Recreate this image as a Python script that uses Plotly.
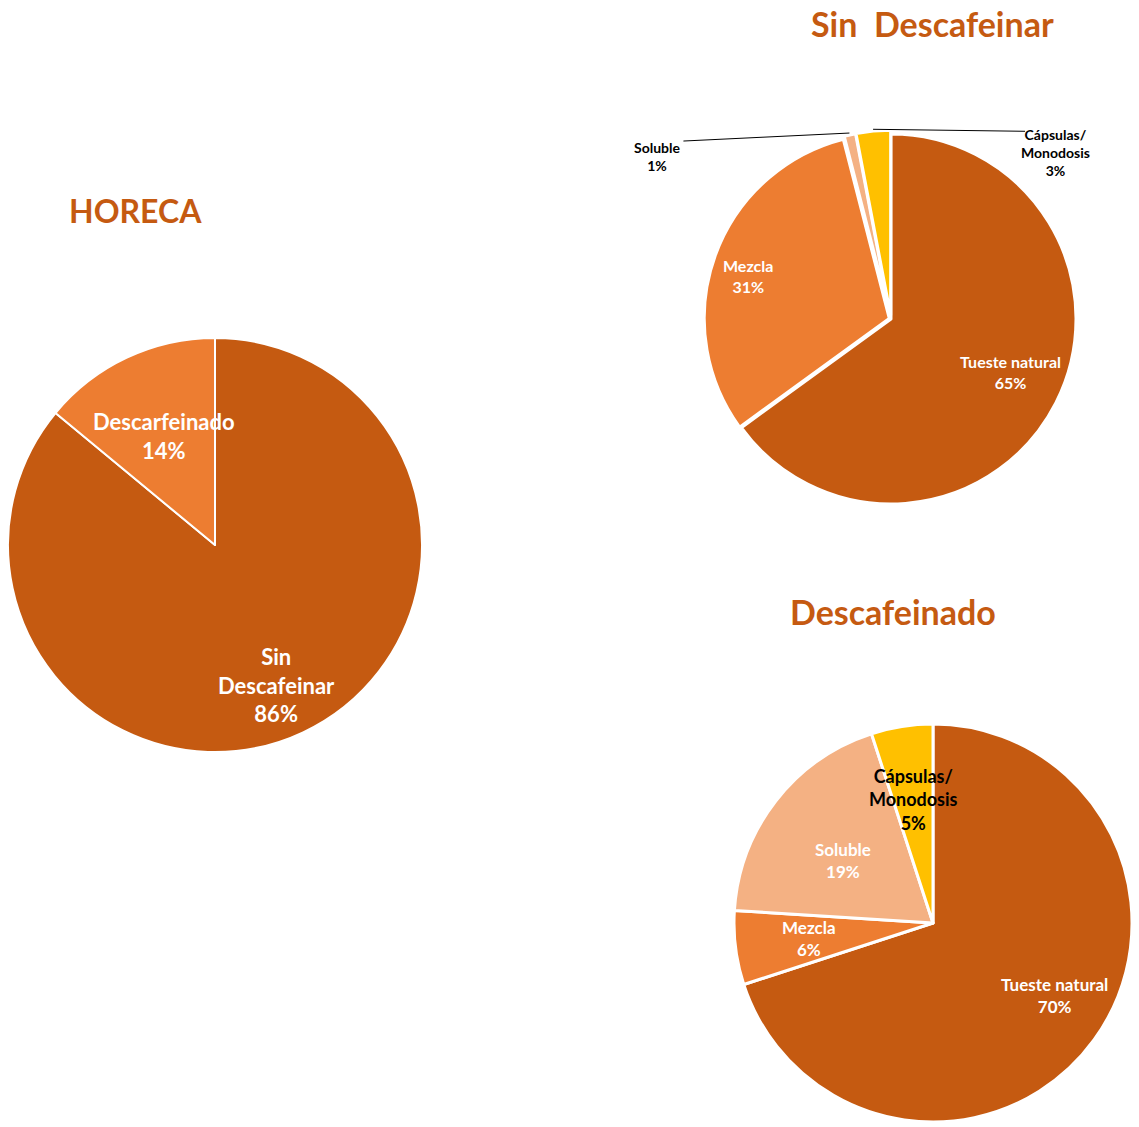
import math
import plotly.graph_objects as go

W, H = 1139, 1127

# ---- data ----
horeca_labels = ["Sin<br>Descafeinar", "Descarfeinado"]
horeca_values = [86, 14]

sin_labels = ["Tueste natural", "Mezcla", "Soluble", "Cápsulas/<br>Monodosis"]
sin_values = [65, 31, 1, 3]

desc_labels = ["Tueste natural", "Mezcla", "Soluble", "Cápsulas/<br>Monodosis"]
desc_values = [70, 6, 19, 5]

C_DARK = "#C55A11"
C_MID = "#ED7D31"
C_LIGHT = "#F4B183"
C_GOLD = "#FFC000"
FONT = "Lato"


def px_x(x):
    return x / W


def px_y(y):
    return 1 - y / H


def clamp(v):
    return min(1.0, max(0.0, v))


def dom(cx, cy, r):
    return dict(x=[clamp(px_x(cx - r)), clamp(px_x(cx + r))],
                y=[clamp(px_y(cy + r)), clamp(px_y(cy - r))])


fig = go.Figure()
annotations = []
shapes = []


def add_pie(labels, values, colors, cx, cy, r, lw, pull, place, fsizes, fcolors, outside=None):
    maxpull = max(pull)
    fig.add_trace(go.Pie(
        labels=[l.replace("<br>", " ") for l in labels], values=values, sort=False,
        direction="clockwise", rotation=0,
        marker=dict(colors=colors, line=dict(color="white", width=lw)),
        textinfo="none", hoverinfo="label+percent", pull=pull,
        domain=dom(cx, cy, r * (1 + maxpull)), showlegend=False,
    ))
    total = sum(values)
    cum = 0
    for i, (lab, v) in enumerate(zip(labels, values)):
        mid = (cum + v / 2) / total * 2 * math.pi
        cum += v
        txt = f"{lab}<br>{round(v / total * 100)}%"
        font = dict(family=FONT, size=fsizes[i], color=fcolors[i], weight="bold")
        if outside and i in outside:
            dx, dy, xa, lx, ly = outside[i]
            tx = cx + r * 1.03 * math.sin(mid)
            ty = cy - r * 1.03 * math.cos(mid)
            ex, ey = tx + dx, ty + dy
            shapes.append(dict(type="line", xref="paper", yref="paper",
                               x0=px_x(tx), y0=px_y(ty), x1=px_x(ex), y1=px_y(ey),
                               line=dict(color="black", width=1)))
            annotations.append(dict(
                x=px_x(ex + lx), y=px_y(ey + ly), xref="paper", yref="paper", text=txt,
                showarrow=False, xanchor=xa, yanchor="top", align="center", font=font,
            ))
        else:
            f, da = place[i]
            a = mid + math.radians(da)
            tx = cx + r * f * math.sin(a)
            ty = cy - r * f * math.cos(a)
            annotations.append(dict(
                x=px_x(tx), y=px_y(ty), xref="paper", yref="paper", text=txt,
                showarrow=False, xanchor="center", yanchor="middle", font=font,
            ))


# HORECA
add_pie(horeca_labels, horeca_values, [C_DARK, C_MID], 215, 545, 207, 2, [0, 0],
        [(0.74, 1.5), (0.58, 0)], [22, 22], ["white", "white"])

# Sin Descafeinar
add_pie(sin_labels, sin_values, [C_DARK, C_MID, C_LIGHT, C_GOLD], 891, 319, 185, 3,
        [0, 0.01, 0.02, 0.02], [(0.71, -3), (0.81, -3), None, None], [16, 16, 14, 14],
        ["white", "white", "black", "black"],
        outside={2: (-166, 8, "right", 0, -4), 3: (152, 2, "left", -6, -7)})

# Descafeinado
add_pie(desc_labels, desc_values, [C_DARK, C_MID, C_LIGHT, C_GOLD], 933, 923, 199, 3,
        [0, 0, 0, 0], [(0.71, -5), (0.63, 0), (0.55, -3), (0.63, 0)], [17, 17, 17, 18],
        ["white", "white", "white", "black"])

titles = [("HORECA", 135, 210, 32), ("Sin  Descafeinar", 932, 24, 34), ("Descafeinado", 893, 611, 34)]
for t, x, y, s in titles:
    annotations.append(dict(
        x=px_x(x), y=px_y(y), xref="paper", yref="paper", text=t, showarrow=False,
        xanchor="center", yanchor="middle",
        font=dict(family=FONT, size=s, color=C_DARK, weight="bold"),
    ))

fig.update_layout(
    width=W, height=H, margin=dict(l=0, r=0, t=0, b=0),
    paper_bgcolor="white", plot_bgcolor="white",
    annotations=annotations, shapes=shapes,
)

fig.write_html(
    "out.html",
    config={"displayModeBar": False},
    post_script="document.body.style.margin='0';document.body.style.overflow='hidden';",
)
